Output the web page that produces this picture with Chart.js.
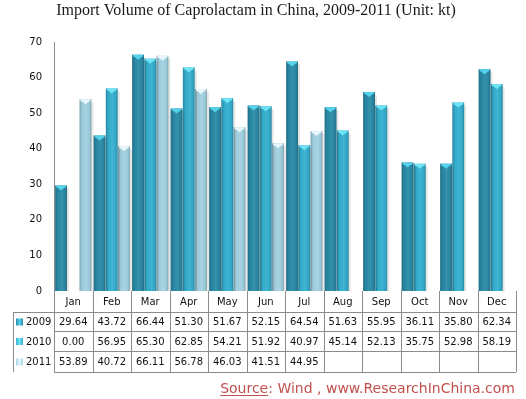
<!DOCTYPE html>
<html>
<head>
<meta charset="utf-8">
<script src="https://cdn.jsdelivr.net/npm/chart.js@4/dist/chart.umd.min.js"></script>
<style>
  html, body { margin: 0; padding: 0; background: #fff; }
  #chart { display: block; }
</style>
</head>
<body>
<canvas id="chart" width="526" height="399"></canvas>
<script>
const title = "Import Volume of Caprolactam in China, 2009-2011 (Unit: kt)"
const months = ["Jan", "Feb", "Mar", "Apr", "May", "Jun", "Jul", "Aug", "Sep", "Oct", "Nov", "Dec"]
const years = ["2009", "2010", "2011"]
const values2009 = [29.64, 43.72, 66.44, 51.30, 51.67, 52.15, 64.54, 51.63, 55.95, 36.11, 35.80, 62.34]
const values2010 = [0.00, 56.95, 65.30, 62.85, 54.21, 51.92, 40.97, 45.14, 52.13, 35.75, 52.98, 58.19]
const values2011 = [53.89, 40.72, 66.11, 56.78, 46.03, 41.51, 44.95, null, null, null, null, null]
const yMax = 70
const yStep = 10

const colors = ["#2a8ba7", "#35b0d0", "#a3d2e2"]
const capColors = ["#55d2ec", "#6fe3f6", "#e6f6fb"]
const gridColor = "#8c8c8c"
const font = "DejaVu Sans"

// 3D-ish shading on top of each bar
const barShade = {
  id: "barShade",
  afterDatasetsDraw(chart) {
    const ctx = chart.ctx
    chart.data.datasets.forEach((ds, di) => {
      const meta = chart.getDatasetMeta(di)
      meta.data.forEach((el) => {
        const h = el.base - el.y
        if (!(h > 1)) return
        const left = el.x - el.width / 2
        const w = el.width
        ctx.save()
        // right drop shadow
        ctx.fillStyle = "rgba(0,0,0,0.10)"
        ctx.fillRect(left + w, el.y + 3, 2, h - 3)
        const g = ctx.createLinearGradient(left, 0, left + w, 0)
        g.addColorStop(0, "rgba(0,0,0,0.22)")
        g.addColorStop(0.25, "rgba(0,0,0,0.02)")
        g.addColorStop(0.55, "rgba(255,255,255,0.06)")
        g.addColorStop(0.85, "rgba(0,0,0,0.05)")
        g.addColorStop(1, "rgba(0,0,0,0.25)")
        ctx.fillStyle = g
        ctx.fillRect(left, el.y, w, h)
        // top cap
        ctx.fillStyle = capColors[di]
        ctx.fillRect(left + 1, el.y, w - 2, 2)
        ctx.beginPath()
        ctx.moveTo(left + 1, el.y + 1)
        ctx.lineTo(left + w - 1, el.y + 1)
        ctx.lineTo(el.x, el.y + 5)
        ctx.closePath()
        ctx.fill()
        ctx.restore()
      })
    })
  }
}

// data table, title and source line
const tableAndText = {
  id: "tableAndText",
  afterDraw(chart) {
    const ctx = chart.ctx
    const a = chart.chartArea
    const x = chart.scales.x
    const colW = (a.right - a.left) / months.length
    const tableLeft = 13
    const rows = [a.bottom, a.bottom + 21, a.bottom + 40, a.bottom + 60, a.bottom + 81]
    ctx.save()
    ctx.strokeStyle = gridColor
    ctx.lineWidth = 1
    ctx.beginPath()
    for (let r = 1; r < rows.length; r++) {
      ctx.moveTo(r === 1 ? tableLeft : a.left, rows[r] + 0.5)
      ctx.lineTo(a.right, rows[r] + 0.5)
    }
    ctx.moveTo(tableLeft + 0.5, rows[1])
    ctx.lineTo(tableLeft + 0.5, rows[4])
    for (let i = 0; i <= months.length; i++) {
      const px = Math.round(a.left + i * colW) + 0.5
      ctx.moveTo(px, a.bottom)
      ctx.lineTo(px, rows[4])
    }
    ctx.stroke()

    ctx.fillStyle = "#111"
    ctx.font = "10px '" + font + "'"
    ctx.textAlign = "center"
    ctx.textBaseline = "middle"
    months.forEach((m, i) => {
      ctx.fillText(m, x.getPixelForValue(i), (rows[0] + rows[1]) / 2 + 1)
    })
    chart.data.datasets.forEach((ds, di) => {
      const cy = (rows[di + 1] + rows[di + 2]) / 2 + 1
      // legend key
      const g = ctx.createLinearGradient(16, 0, 23, 0)
      g.addColorStop(0, colors[di])
      g.addColorStop(0.5, capColors[di])
      g.addColorStop(1, colors[di])
      ctx.fillStyle = g
      ctx.fillRect(16, cy - 4, 7, 7)
      ctx.fillStyle = "#111"
      ctx.textAlign = "left"
      ctx.fillText(ds.label, 26, cy)
      ctx.textAlign = "center"
      ds.data.forEach((v, i) => {
        if (v === null) return
        ctx.fillText(v.toFixed(2), x.getPixelForValue(i), cy)
      })
    })

    // title
    ctx.fillStyle = "#1a1a1a"
    ctx.font = "16px 'Liberation Serif'"
    ctx.textAlign = "center"
    ctx.textBaseline = "alphabetic"
    ctx.fillText(title, 256, 15)

    // source
    ctx.font = "14px '" + font + "'"
    ctx.fillStyle = "#c0504d"
    ctx.textAlign = "left"
    const s1 = "Source"
    const s2 = ": Wind , www.ResearchInChina.com"
    const w1 = ctx.measureText(s1).width
    const w2 = ctx.measureText(s2).width
    const sx = 515 - w1 - w2
    ctx.fillText(s1, sx, 393)
    ctx.fillText(s2, sx + w1, 393)
    ctx.fillRect(sx, 395, w1, 1)
    ctx.restore()
  }
}

const datasets = [values2009, values2010, values2011].map((vals, i) => ({
  label: years[i],
  data: vals,
  backgroundColor: colors[i],
  borderWidth: 0,
  barPercentage: 0.97,
  categoryPercentage: 0.95
}))

new Chart(document.getElementById("chart"), {
  type: "bar",
  data: { labels: months, datasets: datasets },
  options: {
    responsive: false,
    animation: false,
    layout: { padding: { top: 42, left: 0, right: 10, bottom: 108 } },
    plugins: {
      legend: { display: false },
      title: { display: false },
      tooltip: { enabled: false }
    },
    scales: {
      x: { display: false },
      y: {
        min: 0,
        max: yMax,
        grid: { display: false, drawTicks: false },
        border: { display: true, color: gridColor, width: 1 },
        ticks: {
          stepSize: yStep,
          padding: 12,
          color: "#111",
          font: { family: font, size: 10 }
        },
        afterFit: (scale) => { scale.width = 54 }
      }
    }
  },
  plugins: [barShade, tableAndText]
})
</script>
</body>
</html>
